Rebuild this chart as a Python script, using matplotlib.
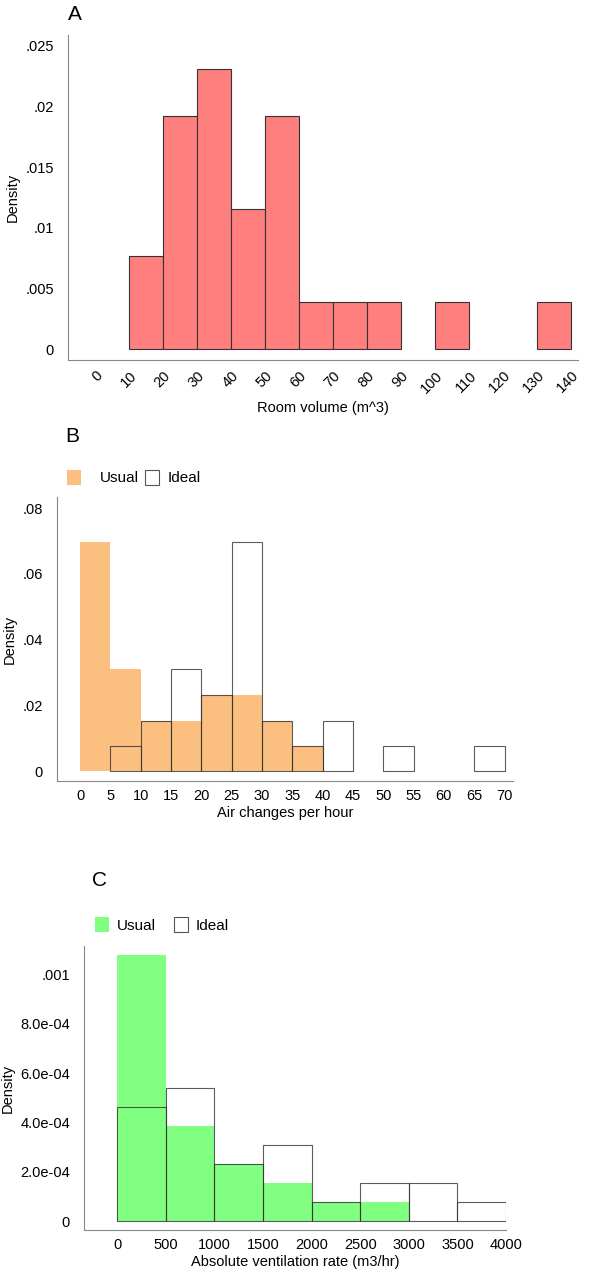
import matplotlib
matplotlib.use("Agg")
import matplotlib.pyplot as plt
import numpy as np

plt.rcParams['font.family'] = ['Liberation Sans', 'DejaVu Sans']

# Panel A
a_edges = [0, 10, 20, 30, 40, 50, 60, 70, 80, 90, 100, 110, 120, 130, 140]
a_dens = [0, 0.00769, 0.01923, 0.02308, 0.01154, 0.01923, 0.00385, 0.00385, 0.00385, 0, 0.00385, 0, 0, 0.00385]
a_ticks = [0, 10, 20, 30, 40, 50, 60, 70, 80, 90, 100, 110, 120, 130, 140]
a_yticks = [0, 0.005, 0.01, 0.015, 0.02, 0.025]
a_ylabels = ['0', '.005', '.01', '.015', '.02', '.025']

# Panel B
b_edges = list(range(0, 75, 5))
b_usual = [0.0697, 0.031, 0.0154, 0.0154, 0.0232, 0.0232, 0.0154, 0.0077, 0, 0, 0, 0, 0, 0]
b_ideal = [0, 0.0077, 0.0154, 0.031, 0.0232, 0.0697, 0.0154, 0.0077, 0.0154, 0, 0.0077, 0, 0, 0.0077]
b_yticks = [0, 0.02, 0.04, 0.06, 0.08]
b_ylabels = ['0', '.02', '.04', '.06', '.08']

# Panel C
c_edges = list(range(0, 4500, 500))
c_usual = [1.078e-3, 3.86e-4, 2.32e-4, 1.55e-4, 7.7e-5, 7.7e-5, 0, 0]
c_ideal = [4.62e-4, 5.39e-4, 2.32e-4, 3.09e-4, 7.7e-5, 1.55e-4, 1.55e-4, 7.7e-5]
c_yticks = [0, 2e-4, 4e-4, 6e-4, 8e-4, 1e-3]
c_ylabels = ['0', '2.0e-04', '4.0e-04', '6.0e-04', '8.0e-04', '.001']

W, H = 589, 1280
fig = plt.figure(figsize=(W/100, H/100), dpi=100)

def ax_at(l, r, t, b):
    return fig.add_axes([l/W, 1-b/H, (r-l)/W, (b-t)/H])

def style(ax):
    for s in ['top', 'right']:
        ax.spines[s].set_visible(False)
    for s in ['left', 'bottom']:
        ax.spines[s].set_color('#888888')
    ax.tick_params(length=0, labelsize=10.5)
    ax.tick_params(axis='y', pad=10)
    ax.tick_params(axis='x', pad=6)

def bars(ax, edges, vals, **kw):
    e = np.array(edges, dtype=float)
    v = np.array(vals)
    m = v > 0
    ax.bar(e[:-1][m], v[m], width=np.diff(e)[m], align='edge', **kw)

# A
ax = ax_at(68, 578, 35, 360)
style(ax)
bars(ax, a_edges, a_dens, color='#FF7F7F', edgecolor='#333333', linewidth=0.8)
ax.set_xlim(-8, 142)
ax.set_ylim(-0.0009, 0.0259)
ax.set_xticks(a_ticks)
ax.set_xticklabels([str(t) for t in a_ticks], rotation=45, ha='right', rotation_mode='anchor')
ax.set_yticks(a_yticks)
ax.set_yticklabels(a_ylabels)
ax.set_xlabel('Room volume (m^3)', fontsize=10.5)
ax.set_ylabel('Density', fontsize=10.5)
fig.text(68/W, 1-14/H, 'A', fontsize=15, va='center')

# B
ax = ax_at(57, 513, 497, 781)
style(ax)
bars(ax, b_edges, b_usual, color='#FBBF80', edgecolor='none')
bars(ax, b_edges, b_ideal, facecolor='none', edgecolor='#333333', linewidth=0.8, alpha=0.8)
ax.set_xlim(-3.8, 71.4)
ax.set_ylim(-0.003, 0.0834)
ax.set_xticks(b_edges)
ax.set_yticks(b_yticks)
ax.set_yticklabels(b_ylabels)
ax.set_xlabel('Air changes per hour', fontsize=10.5, labelpad=2)
ax.set_ylabel('Density', fontsize=10.5)
fig.text(65/W, 1-436/H, 'B', fontsize=15, va='center')
fig.patches.append(plt.Rectangle((67/W, 1-485/H), 14/W, 15/H, transform=fig.transFigure, facecolor='#FBBF80', edgecolor='none'))
fig.text(100/W, 1-478/H, 'Usual', fontsize=11, va='center')
fig.patches.append(plt.Rectangle((145/W, 1-485/H), 14/W, 15/H, transform=fig.transFigure, facecolor='white', edgecolor='#555555', linewidth=0.8))
fig.text(168/W, 1-478/H, 'Ideal', fontsize=11, va='center')

# C
ax = ax_at(84, 506, 946, 1230)
style(ax)
bars(ax, c_edges, c_usual, color='#80FF80', edgecolor='none')
bars(ax, c_edges, c_ideal, facecolor='none', edgecolor='#333333', linewidth=0.8, alpha=0.8)
ax.set_xlim(-340, 4000)
ax.set_ylim(-3.65e-5, 1.116e-3)
ax.set_xticks(c_edges)
ax.set_yticks(c_yticks)
ax.set_yticklabels(c_ylabels)
ax.set_xlabel('Absolute ventilation rate (m3/hr)', fontsize=10.5, labelpad=2)
ax.set_ylabel('Density', fontsize=10.5)
fig.text(92/W, 1-880/H, 'C', fontsize=15, va='center')
fig.patches.append(plt.Rectangle((95/W, 1-932/H), 14/W, 15/H, transform=fig.transFigure, facecolor='#80FF80', edgecolor='none'))
fig.text(117/W, 1-926/H, 'Usual', fontsize=11, va='center')
fig.patches.append(plt.Rectangle((174/W, 1-932/H), 14/W, 15/H, transform=fig.transFigure, facecolor='white', edgecolor='#555555', linewidth=0.8))
fig.text(196/W, 1-926/H, 'Ideal', fontsize=11, va='center')

fig.savefig('out.png', dpi=100)
